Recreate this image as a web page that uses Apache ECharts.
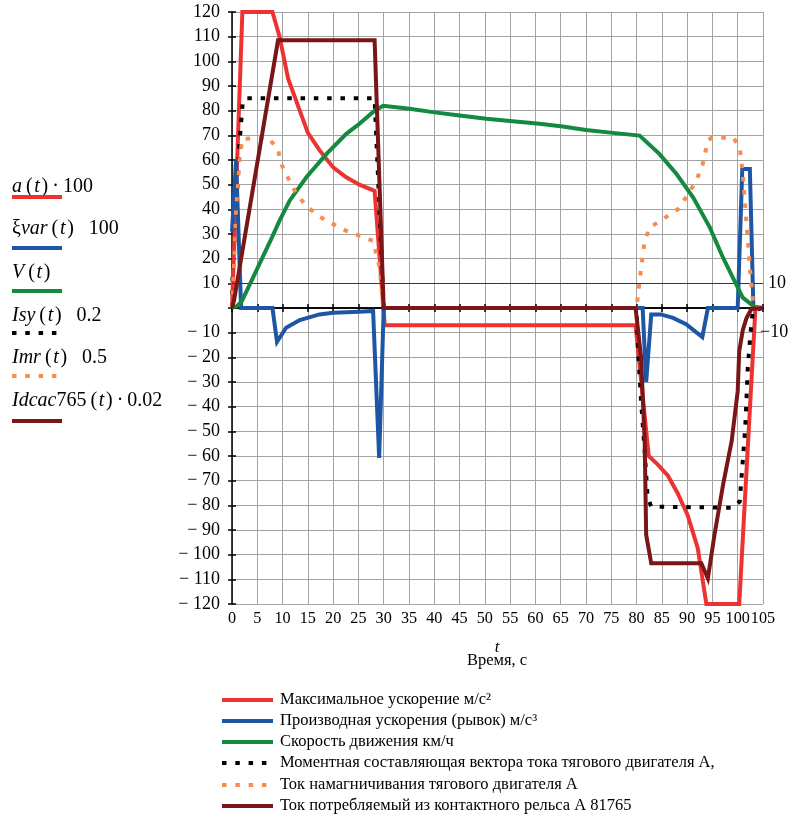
<!DOCTYPE html>
<html>
<head>
<meta charset="utf-8">
<script src="https://cdn.jsdelivr.net/npm/echarts@6/dist/echarts.min.js"></script>
<style>
html,body{margin:0;padding:0;background:#fff;}
#c{width:794px;height:820px;}
</style>
</head>
<body>
<div id="c"></div>
<script>
// ---- data (time s, value) ----
const accel = [[0,0],[2.05,120],[8,120],[9.4,110],[11.1,93],[13.4,80],[15,71],[17.3,64],[20,57],[22.6,53],[25.2,50],[28.2,47.5],[30.2,-7],[79.8,-7],[82.4,-60],[84.2,-63.5],[86.2,-68],[88.1,-75],[90.1,-84],[92.1,-97.4],[93.8,-120],[100.3,-120],[103.5,0],[105,0]];
const jerk = [[0,31],[0.8,60],[1.8,0],[8,0],[8.9,-13.7],[10.7,-8],[13.4,-4.9],[17.3,-2.6],[20,-1.9],[25.2,-1.5],[27.9,-1.2],[29.1,-60.8],[30,0],[81.2,0],[81.9,-30],[82.9,-2.6],[84.8,-2.6],[87.2,-4],[89.8,-6.6],[93,-11.8],[94.1,0],[100,0],[100.9,56.4],[102.4,56.4],[103.1,0],[105,0]];
const speed = [[0,0],[1,0.8],[2,3],[4.2,12.5],[8,29],[9.4,35.4],[11.4,43.5],[14.7,53],[18.7,62.5],[22.6,70.6],[25.2,74.7],[28.2,80],[29.9,82],[35.1,80.8],[39.7,79.4],[45,78],[50.3,76.7],[55.5,75.7],[60.8,74.7],[65.4,73.6],[70,72.2],[75.3,71],[80.6,69.9],[84.5,62.5],[87.9,54.3],[91.2,44.8],[94.5,32.6],[97.1,20.4],[99.7,9.6],[101,4.2],[103.3,0.5],[105,0]];
const isy = [[0,0],[0.1,12],[0.9,40],[1.45,66],[2.1,83],[2.6,85],[28.2,85],[30,0],[80,0],[80.3,-17.5],[80.9,-38],[81.6,-58],[82.2,-77],[82.9,-80.5],[99,-81],[100.4,-78.5],[101,-62],[101.5,-48],[102,-24],[102.5,-10.7],[103,-1],[105,0]];
const imr = [[0,0],[0.73,36.7],[1.45,59.8],[2.05,68.6],[7.1,69],[9.1,64.5],[9.6,59],[10.7,54.3],[12.4,47.6],[14.4,42],[17,37.4],[20,34],[22.6,31.3],[25.2,29.3],[27.9,27.2],[29.2,16.4],[29.9,0],[80,0],[80.3,5.6],[80.9,16.4],[81.6,27.2],[82.6,32.6],[85.2,36],[88.2,40.1],[90.2,46.2],[91.8,51.6],[93.1,58.4],[94.1,67.9],[94.8,69],[99.1,69],[100.4,65.2],[101,54.3],[101.7,35.4],[102.4,16.4],[103,2.7],[103.3,0],[105,0]];
const idc = [[0,0],[0.4,3],[9.1,108.5],[28.2,108.5],[30,0],[79.8,0],[80.9,-20],[81.6,-54],[81.9,-92],[82.9,-103.5],[92.8,-103.5],[94.1,-109.6],[95.4,-92],[97.1,-71.7],[98.8,-54],[100,-33.7],[100.3,-17.5],[101,-9],[101.7,-4.3],[102.7,-0.4],[105,0]];

const seriesNames = [
  'Максимальное ускорение м/с²',
  'Производная ускорения (рывок) м/с³',
  'Скорость движения км/ч',
  'Моментная составляющая вектора тока тягового двигателя А,',
  'Ток намагничивания тягового двигателя А',
  'Ток потребляемый из контактного рельса А 81765'
];
const formulaLabels = [
  '{i|a}\u2009(\u200a{i|t}\u200a)\u2009\u00b7\u2009100',
  '\u03be{i|var}\u2009(\u200a{i|t}\u200a)   100',
  '{i|V}\u2009(\u200a{i|t}\u200a)',
  '{i|Isy}\u2009(\u200a{i|t}\u200a)   0.2',
  '{i|Imr}\u2009(\u200a{i|t}\u200a)   0.5',
  '{i|Idcac}765\u2009(\u200a{i|t}\u200a)\u2009\u00b7\u20090.02'
];
const xTicks = [0,5,10,15,20,25,30,35,40,45,50,55,60,65,70,75,80,85,90,95,100,105];
const yTickLabels = {120:'120',110:'110',100:'100',90:'90',80:'80',70:'70',60:'60',50:'50',40:'40',30:'30',20:'20',10:'10',0:'',
  '-10':'\u2212 10','-20':'\u2212 20','-30':'\u2212 30','-40':'\u2212 40','-50':'\u2212 50','-60':'\u2212 60','-70':'\u2212 70','-80':'\u2212 80','-90':'\u2212 90','-100':'\u2212 100','-110':'\u2212 110','-120':'\u2212 120'};
const refLevels = [10,-10];
const refLabels = ['10','\u221210'];

const colors = ['#ee3232','#1e56a6','#148a3f','#000000','#f68c50','#7a1518'];
const FONT = 'Liberation Serif';
const dots = [4.5,8.8];

const chart = echarts.init(document.getElementById('c'), null, {renderer:'canvas'});

const gridColor = '#a3a3a3';
function xAx(extra){
  return Object.assign({type:'value',min:0,max:105,interval:5,axisLabel:{show:false},splitLine:{show:false}},extra);
}
function yAx(extra){
  return Object.assign({type:'value',min:-120,max:120,interval:10,axisLabel:{show:false},splitLine:{show:false}},extra);
}

const lineSeries = [accel,jerk,speed,isy,imr,idc].map((d,i)=>({
  name: seriesNames[i],
  type:'line',
  data:d,
  xAxisIndex:0, yAxisIndex:0,
  showSymbol:false, symbol:'none',
  z: 3+i,
  lineStyle:{color:colors[i],width:4,type:(i===3||i===4)?dots:'solid',cap:'butt',join:'miter'},
  itemStyle:{color:colors[i]}
}));
lineSeries[0].markLine = {
  silent:true, symbol:'none', animation:false,
  data:[
    {yAxis:refLevels[0], lineStyle:{color:'#3a2a55',width:1,type:'solid'}, label:{show:true,position:'end',distance:5,formatter:refLabels[0],fontFamily:FONT,fontSize:18,color:'#000'}},
    {yAxis:refLevels[1], lineStyle:{color:'rgba(0,0,0,0)',width:1,type:'solid'}, label:{show:true,position:'end',distance:-3,formatter:refLabels[1],fontFamily:FONT,fontSize:18,color:'#000'}}
  ]
};

const graphics = [];
const lineYs = [197,248,291,333,376,421];
const textYs = [187,229,273,316,358,401];
formulaLabels.forEach((t,i)=>{
  graphics.push({type:'text', style:{x:12, y:textYs[i], text:t, fontFamily:FONT, fontSize:20, fill:'#000', verticalAlign:'middle',
    rich:{i:{fontStyle:'italic',fontFamily:FONT,fontSize:20,fill:'#000'}}}});
  graphics.push({type:'line', shape:{x1:12,y1:lineYs[i],x2:62,y2:lineYs[i]},
    style:{stroke:colors[i],lineWidth:4,lineDash:(i===3||i===4)?dots:null,lineCap:'butt'}});
});
// bottom legend
const legYs = [700,721,742,763,785,806];
seriesNames.forEach((n,i)=>{
  graphics.push({type:'line', shape:{x1:222,y1:legYs[i],x2:273,y2:legYs[i]},
    style:{stroke:colors[i],lineWidth:4,lineDash:(i===3||i===4)?dots:null,lineCap:'butt'}});
  graphics.push({type:'text', style:{x:280, y:legYs[i], text:n, fontFamily:FONT, fontSize:16.5, fill:'#000', verticalAlign:'middle'}});
});
graphics.push({type:'text', style:{x:497, y:648, text:'t', fontFamily:FONT, fontSize:17, fontStyle:'italic', fill:'#000', align:'center', verticalAlign:'middle'}});
graphics.push({type:'text', style:{x:497, y:661, text:'Время, с', fontFamily:FONT, fontSize:16.5, fill:'#000', align:'center', verticalAlign:'middle'}});

chart.setOption({
  animation:false,
  backgroundColor:'#fff',
  grid:{left:232, top:12, width:531, height:592, containLabel:false},
  xAxis:[
    xAx({position:'bottom', axisLine:{show:false,onZero:false}, axisTick:{show:false},
      axisLabel:{show:true, showMaxLabel:true, showMinLabel:true, hideOverlap:false, fontFamily:FONT, fontSize:16.2, color:'#000', margin:7, formatter:(v)=>xTicks.indexOf(v)>=0?String(v):''},
      splitLine:{show:true, lineStyle:{color:gridColor,width:1}}}),
    xAx({position:'bottom', axisLine:{show:true,onZero:true,onZeroAxisIndex:0,lineStyle:{color:'#000',width:1.5}},
      axisTick:{show:true,inside:true,length:4,lineStyle:{color:'#000',width:1.5}}}),
    xAx({position:'bottom', axisLine:{show:true,onZero:true,onZeroAxisIndex:0,lineStyle:{color:'#000',width:1.5}},
      axisTick:{show:true,inside:false,length:4,lineStyle:{color:'#000',width:1.5}}})
  ],
  yAxis:[
    yAx({position:'left', axisLine:{show:true,onZero:false,lineStyle:{color:'#000',width:1.5}},
      axisTick:{show:true,inside:true,length:4,lineStyle:{color:'#000',width:1.5}},
      axisLabel:{show:true, showMaxLabel:true, showMinLabel:true, fontFamily:FONT, fontSize:18, color:'#000', margin:12, formatter:(v)=>yTickLabels[String(v)]!==undefined?yTickLabels[String(v)]:''},
      splitLine:{show:true, lineStyle:{color:gridColor,width:1}}}),
    yAx({position:'left', axisLine:{show:false,onZero:false}, axisTick:{show:true,inside:false,length:4,lineStyle:{color:'#000',width:1.5}}})
  ],
  graphic: graphics,
  series: lineSeries
});
</script>
</body>
</html>
